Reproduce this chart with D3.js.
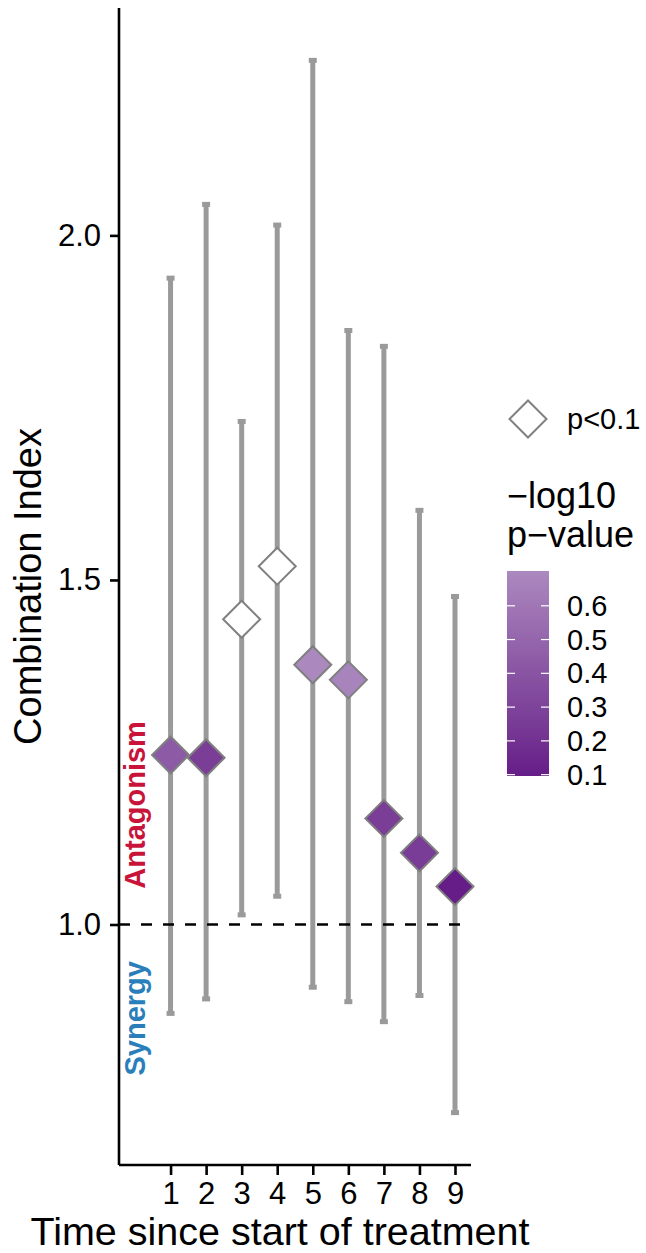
<!DOCTYPE html>
<html><head><meta charset="utf-8">
<script src="https://cdn.jsdelivr.net/npm/d3@7"></script>
<style>body{margin:0;background:#fff} text{font-family:"Liberation Sans",Arial,Helvetica,sans-serif}</style>
</head><body><svg id="c" width="646" height="1253"></svg>
<script>
// ---- data ----
const timepoints = [1,2,3,4,5,6,7,8,9];
const combIndex = [1.246,1.242,1.443,1.520,1.377,1.355,1.154,1.104,1.055];
const ciLow  = [0.871,0.892,1.014,1.041,0.909,0.888,0.859,0.897,0.727];
const ciHigh = [1.938,2.045,1.730,2.015,2.254,1.862,1.839,1.601,1.476];
const negLog10P = [0.43,0.27,null,null,0.703,0.68,0.27,0.26,0.096];
const significant = [false,false,true,true,false,false,false,false,false];
const yTickValues = [1.0,1.5,2.0];
const legendTickValues = [0.1,0.2,0.3,0.4,0.5,0.6];
const colorDomain = [0.096,0.703];
const colorRange = ["#661d88","#ab88be"];

const svg = d3.select("#c");
const x = d3.scaleLinear().domain([-0.45,9.45]).range([119,471]);
const y = d3.scaleLinear().domain([0.651,2.33]).range([1165,8]);
const color = d3.scaleLinear().domain(colorDomain).range(colorRange).interpolate(d3.interpolateLab);

const rows = timepoints.map((t,i)=>({t, ci:combIndex[i], lo:ciLow[i], hi:ciHigh[i], p:negLog10P[i], sig:significant[i]}));

// error bars
const eb = svg.append("g").attr("stroke","#9a9a9a").attr("stroke-width",5);
eb.selectAll("line.v").data(rows).join("line").attr("class","v")
  .attr("x1",d=>x(d.t)).attr("x2",d=>x(d.t)).attr("y1",d=>y(d.lo)).attr("y2",d=>y(d.hi));
eb.selectAll("line.h1").data(rows).join("line").attr("class","h1")
  .attr("x1",d=>x(d.t)-4).attr("x2",d=>x(d.t)+4).attr("y1",d=>y(d.hi)).attr("y2",d=>y(d.hi));
eb.selectAll("line.h2").data(rows).join("line").attr("class","h2")
  .attr("x1",d=>x(d.t)-4).attr("x2",d=>x(d.t)+4).attr("y1",d=>y(d.lo)).attr("y2",d=>y(d.lo));

// reference line
svg.append("line").attr("x1",x(-0.45)).attr("x2",x(9.45)).attr("y1",y(1)).attr("y2",y(1))
  .attr("stroke","#000").attr("stroke-width",2.5).attr("stroke-dasharray","11,11");

// diamonds
const diamond = r => `M0,${-r}L${r},0L0,${r}L${-r},0Z`;
svg.append("g").selectAll("path").data(rows).join("path")
  .attr("d",diamond(18.5))
  .attr("transform",d=>`translate(${x(d.t)},${y(d.ci)})`)
  .attr("fill",d=>d.sig?"#ffffff":color(d.p))
  .attr("stroke","#808080").attr("stroke-width",2);

// annotations
svg.append("text").attr("transform",`translate(${x(0)},${y(1.052)}) rotate(-90)`)
  .attr("text-anchor","start").attr("dominant-baseline","central")
  .attr("font-size",29).attr("font-weight","bold").attr("fill","#c8143a").text("Antagonism");
svg.append("text").attr("transform",`translate(${x(0)},${y(0.947)}) rotate(-90)`)
  .attr("text-anchor","end").attr("dominant-baseline","central")
  .attr("font-size",29).attr("font-weight","bold").attr("fill","#2a7fba").text("Synergy");

// axes
const yAxis = svg.append("g").attr("transform","translate(119,0)")
  .call(d3.axisLeft(y).tickValues(yTickValues).tickFormat(d3.format(".1f")).tickSize(9).tickPadding(9));
const xAxis = svg.append("g").attr("transform","translate(0,1165)")
  .call(d3.axisBottom(x).tickValues(timepoints).tickFormat(d3.format("d")).tickSize(10).tickPadding(7));
[yAxis,xAxis].forEach(a=>{
  a.select(".domain").attr("stroke","#000").attr("stroke-width",2.6);
  a.selectAll(".tick line").attr("stroke","#000").attr("stroke-width",2.6);
  a.selectAll(".tick text").attr("fill","#000").attr("font-size",31).attr("font-family","Liberation Sans, Arial, sans-serif");
});
xAxis.select(".domain").attr("d","M119,0H471");
yAxis.select(".domain").attr("d","M0,8V1165");

// axis titles
svg.append("text").attr("x",280).attr("y",1245).attr("text-anchor","middle")
  .attr("font-size",39.5).attr("fill","#000").text("Time since start of treatment");
svg.append("text").attr("transform",`translate(41,${(8+1165)/2}) rotate(-90)`).attr("text-anchor","middle")
  .attr("font-size",38).attr("fill","#000").text("Combination Index");

// legend: p<0.1
const lg = svg.append("g");
lg.append("path").attr("d",diamond(18.5)).attr("transform","translate(528,419)")
  .attr("fill","#fff").attr("stroke","#808080").attr("stroke-width",2);
lg.append("text").attr("x",567).attr("y",419).attr("dominant-baseline","central")
  .attr("font-size",29).attr("fill","#000").text("p<0.1");

// legend: colorbar
lg.append("text").attr("x",507).attr("y",508).attr("font-size",36).attr("fill","#000").text("\u2212log10");
lg.append("text").attr("x",507).attr("y",547).attr("font-size",36).attr("fill","#000").text("p\u2212value");
const ly = d3.scaleLinear().domain(colorDomain).range([776,571]);
const defs = svg.append("defs");
const grad = defs.append("linearGradient").attr("id","g1").attr("x1",0).attr("y1",1).attr("x2",0).attr("y2",0);
d3.range(0,1.0001,0.1).forEach(f=>{
  const v = colorDomain[0]+f*(colorDomain[1]-colorDomain[0]);
  grad.append("stop").attr("offset",f).attr("stop-color",color(v));
});
lg.append("rect").attr("x",507).attr("y",ly(colorDomain[1])).attr("width",42)
  .attr("height",ly(colorDomain[0])-ly(colorDomain[1])).attr("fill","url(#g1)");
lg.selectAll("line.tl").data(legendTickValues).join("line").attr("class","tl")
  .attr("x1",507).attr("x2",515).attr("y1",d=>ly(d)).attr("y2",d=>ly(d)).attr("stroke","#fff").attr("stroke-width",1.2);
lg.selectAll("line.tr").data(legendTickValues).join("line").attr("class","tr")
  .attr("x1",541).attr("x2",549).attr("y1",d=>ly(d)).attr("y2",d=>ly(d)).attr("stroke","#fff").attr("stroke-width",1.2);
lg.selectAll("text.lt").data(legendTickValues).join("text").attr("class","lt")
  .attr("x",567).attr("y",d=>ly(d)).attr("dominant-baseline","central")
  .attr("font-size",29).attr("fill","#000").text(d=>d.toFixed(1));
</script></body></html>
